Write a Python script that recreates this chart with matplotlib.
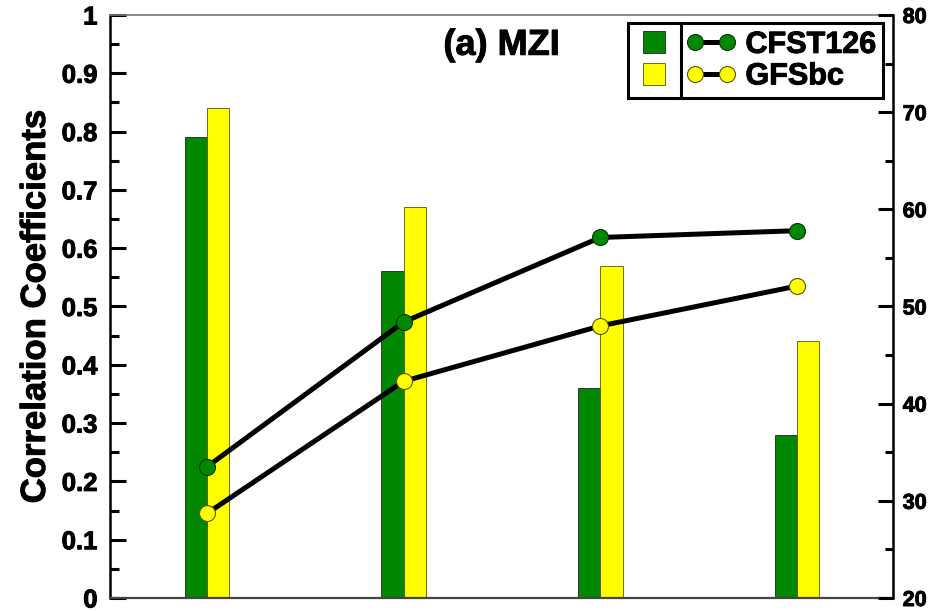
import matplotlib
matplotlib.use("Agg")
import matplotlib.pyplot as plt
import matplotlib.patheffects as pe
import numpy as np
from matplotlib.lines import Line2D

plt.rcParams['font.family'] = ['Liberation Sans', 'DejaVu Sans']
plt.rcParams['font.weight'] = 'bold'

groups = [1, 2, 3, 4]
bar_cfst = [0.79, 0.56, 0.36, 0.28]
bar_gfs = [0.84, 0.67, 0.57, 0.44]
line_cfst = [33.5, 48.4, 57.1, 57.8]
line_gfs = [28.7, 42.3, 48.0, 52.1]
left_ticks = [0, 0.1, 0.2, 0.3, 0.4, 0.5, 0.6, 0.7, 0.8, 0.9, 1.0]
left_labels = ['0', '0.1', '0.2', '0.3', '0.4', '0.5', '0.6', '0.7', '0.8', '0.9', '1']
right_ticks = [20, 30, 40, 50, 60, 70, 80]
right_labels = ['20', '30', '40', '50', '60', '70', '80']
series_names = ['CFST126', 'GFSbc']

GREEN = '#008800'
YELLOW = '#ffff00'
heavy = [pe.withStroke(linewidth=0.7, foreground='black')]

fig = plt.figure(figsize=(9.38, 6.11), dpi=100)
ax = fig.add_axes([0.1173, 0.0213, 0.8347, 0.9542])
x = np.array(groups, dtype=float)
w = 0.113
ax.bar(x - w / 2, bar_cfst, width=w, color=GREEN, edgecolor='#222222', linewidth=0.6, zorder=2)
ax.bar(x + w / 2, bar_gfs, width=w, color=YELLOW, edgecolor='#555500', linewidth=0.6, zorder=2)
ax.set_xlim(0.507, 4.488)
ax.set_ylim(0, 1)
ax.set_yticks(left_ticks)
ax.set_yticklabels(left_labels)
ax.set_yticks(np.arange(0.05, 1.0, 0.1), minor=True)
ax.set_xticks(groups)
ax.set_xticklabels([])
ax.tick_params(axis='y', which='major', direction='in', length=11.5, width=2.2, labelsize=18.5, pad=9)
ax.tick_params(axis='y', which='minor', direction='in', length=6.5, width=2.2)
ax.tick_params(axis='x', which='major', direction='in', length=12, width=2.2, color='black')
ax.tick_params(axis='x', which='minor', bottom=False)
for t in ax.get_xticklines():
    t.set_zorder(5)
for t in ax.get_yticklabels():
    t.set_path_effects(heavy)
ax.set_ylabel('Correlation Coefficients', fontsize=25, fontweight='bold', labelpad=7,
              path_effects=heavy)
ax.spines['left'].set_linewidth(1.8)
ax.spines['right'].set_visible(False)
ax.spines['top'].set_color('#777777')
ax.spines['top'].set_linewidth(1.2)
ax.spines['bottom'].set_color('#444444')
ax.spines['bottom'].set_linewidth(1.6)

ax2 = ax.twinx()
ax2.set_ylim(20, 80)
ax2.plot(x, line_cfst, color='black', linewidth=3.6, marker='o', markersize=11.5,
         markerfacecolor=GREEN, markeredgecolor='#003300', markeredgewidth=0.8, zorder=3)
ax2.plot(x, line_gfs, color='black', linewidth=3.6, marker='o', markersize=11.5,
         markerfacecolor=YELLOW, markeredgecolor='#555500', markeredgewidth=0.8, zorder=3)
ax2.set_yticks(right_ticks)
ax2.set_yticklabels(right_labels)
ax2.set_yticks(np.arange(25, 80, 10), minor=True)
ax2.tick_params(axis='y', which='major', direction='in', length=11, width=2.2, labelsize=15.5, pad=7)
ax2.tick_params(axis='y', which='minor', direction='in', length=5.5, width=2.2)
for t in ax2.get_yticklabels():
    t.set_path_effects(heavy)
ax2.spines['right'].set_linewidth(1.8)
ax2.spines['left'].set_visible(False)
ax2.spines['top'].set_visible(False)
ax2.spines['bottom'].set_visible(False)

ax.text(0.50, 0.948, '(a) MZI', transform=ax.transAxes, ha='center', va='center',
        fontsize=26, fontweight='bold', path_effects=heavy)

# legend: left box with bar swatches, right box with lines
FS = 22
hA = [Line2D([], [], linestyle='none', marker='s', markersize=16.5,
             markerfacecolor=GREEN, markeredgecolor='#222222', markeredgewidth=0.6),
      Line2D([], [], linestyle='none', marker='s', markersize=16.5,
             markerfacecolor=YELLOW, markeredgecolor='#555500', markeredgewidth=0.6)]
hB = [Line2D([], [], color='black', linewidth=3.6, marker='o', markersize=11.5,
             markerfacecolor=GREEN, markeredgecolor='#003300', markeredgewidth=0.8),
      Line2D([], [], color='black', linewidth=3.6, marker='o', markersize=11.5,
             markerfacecolor=YELLOW, markeredgecolor='#555500', markeredgewidth=0.8)]
common = dict(prop={'weight': 'bold', 'size': FS}, labelspacing=0.05, borderpad=0.22,
              fancybox=False, framealpha=1, edgecolor='black', borderaxespad=0, numpoints=2)
legB = ax2.legend(hB, series_names, loc='upper right', bbox_to_anchor=(0.987, 0.986),
                  handlelength=1.65, handletextpad=0.3, **common)
legB.get_frame().set_linewidth(2.2)
legB.set_zorder(10)
for t in legB.get_texts():
    t.set_path_effects(heavy)
fig.canvas.draw()
bb = legB.get_window_extent().transformed(ax2.transAxes.inverted())
common['numpoints'] = 1
legA = ax2.legend(hA, ['', ''], loc='upper right', bbox_to_anchor=(bb.x0 + 0.002, bb.y1),
                  handlelength=1.3, handletextpad=0.0, **common)
legA.get_frame().set_linewidth(2.2)
legA.set_zorder(10)
ax2.add_artist(legB)

fig.savefig('out.png', dpi=100)
